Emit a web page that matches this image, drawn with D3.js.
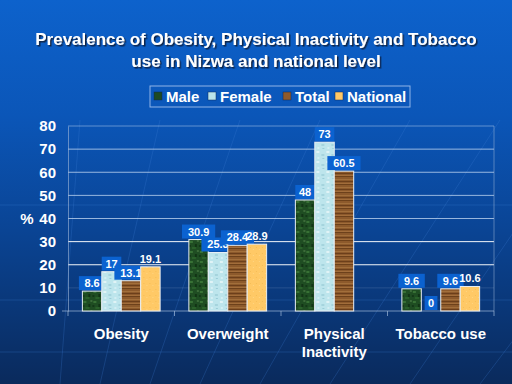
<!DOCTYPE html>
<html>
<head>
<meta charset="utf-8">
<script src="https://cdn.jsdelivr.net/npm/d3@7"></script>
<style>
  html, body { margin: 0; padding: 0; background: #0a3a80; }
  svg { display: block; }
  text { font-family: "Liberation Sans", Arial, sans-serif; font-weight: bold; }
</style>
</head>
<body>
<div id="chart"></div>
<script>
// chart values
const categories = [["Obesity"], ["Overweight"], ["Physical", "Inactivity"], ["Tobacco use"]];
const seriesNames = ["Male", "Female", "Total", "National"];
const male = [8.6, 30.9, 48, 9.6];
const female = [17, 25.3, 73, 0];
const total = [13.1, 28.4, 60.5, 9.6];
const national = [19.1, 28.9, null, 10.6];
const yTicks = [0, 10, 20, 30, 40, 50, 60, 70, 80];

const W = 512, H = 384;
const margin = { top: 126, right: 18, bottom: 73, left: 68 };

const series = [male, female, total, national];
const fills = ["url(#pMale)", "url(#pFemale)", "url(#pTotal)", "url(#pNational)"];
const swatch = ["#1d4a22", "#b9e3ea", "#8f5a2c", "#ffc966"];

const svg = d3.select("#chart").append("svg")
  .attr("width", W).attr("height", H);

const defs = svg.append("defs");

// slide background
const bg = defs.append("linearGradient").attr("id", "bg")
  .attr("x1", 0).attr("y1", 0).attr("x2", 0).attr("y2", 1);
bg.append("stop").attr("offset", "0%").attr("stop-color", "#0d62cc");
bg.append("stop").attr("offset", "30%").attr("stop-color", "#0b56b8");
bg.append("stop").attr("offset", "60%").attr("stop-color", "#0a4494");
bg.append("stop").attr("offset", "100%").attr("stop-color", "#0a2a5c");

// rough textures for the bars
function texture(id, base, spots, w, h) {
  const p = defs.append("pattern").attr("id", id)
    .attr("patternUnits", "userSpaceOnUse").attr("width", w).attr("height", h);
  p.append("rect").attr("width", w).attr("height", h).attr("fill", base);
  spots.forEach(s => {
    p.append("rect").attr("x", s[0]).attr("y", s[1]).attr("width", s[2]).attr("height", s[3])
      .attr("fill", s[4]).attr("opacity", s[5]);
  });
}
texture("pMale", "#1f4d22", [
  [1, 1, 3, 2, "#3f7a3a", 0.8], [6, 4, 2, 3, "#0f2e12", 0.8], [3, 7, 4, 2, "#2f6a2e", 0.7],
  [8, 0, 2, 2, "#5a8a50", 0.5], [0, 5, 2, 2, "#123516", 0.9]], 10, 10);
texture("pFemale", "#bde5ec", [
  [1, 1, 3, 2, "#e4f6f8", 0.9], [6, 4, 3, 2, "#9fd0da", 0.8], [2, 7, 2, 2, "#d6f0f4", 0.9],
  [7, 8, 2, 1, "#8cc4d0", 0.7]], 10, 10);
texture("pTotal", "#8d5a2c", [
  [0, 0, 12, 1, "#6a3e1a", 0.9], [0, 3, 12, 1, "#a8743e", 0.8], [0, 5, 12, 1, "#5e3414", 0.7],
  [0, 7, 12, 1, "#b07a44", 0.6]], 12, 8);
texture("pNational", "#ffc966", [
  [1, 1, 1, 1, "#f0b850", 0.7], [4, 3, 1, 1, "#ffd88a", 0.8]], 6, 6);

const shadow = defs.append("filter").attr("id", "shadow");
shadow.append("feDropShadow").attr("dx", 1.5).attr("dy", 1.5).attr("stdDeviation", 0.4)
  .attr("flood-color", "#0a1a3a").attr("flood-opacity", 0.9);

svg.append("rect").attr("width", W).attr("height", H).attr("fill", "url(#bg)");

// faint perspective lines in the slide background
const deco = svg.append("g").attr("stroke", "#3f7fd8").attr("stroke-opacity", 0.25).attr("fill", "none");
[[-40, 60], [40, 100], [120, 150], [200, 200], [290, 260], [380, 330], [470, 410], [560, 480]]
  .forEach(d => deco.append("line").attr("x1", d[0] + 120).attr("y1", 120).attr("x2", d[1]).attr("y2", H));
[205, 300, 352].forEach(y => deco.append("line").attr("x1", 0).attr("x2", W).attr("y1", y).attr("y2", y));

// title
svg.append("text").attr("x", W / 2).attr("y", 45).attr("text-anchor", "middle")
  .attr("fill", "#ffffff").attr("font-size", 17).attr("filter", "url(#shadow)")
  .selectAll("tspan")
  .data(["Prevalence of Obesity, Physical Inactivity and Tobacco", "use in Nizwa and national level"])
  .join("tspan").attr("x", W / 2).attr("dy", (d, i) => i ? 21.5 : 0).text(d => d);

// scales
const x0 = d3.scaleBand().domain(d3.range(categories.length))
  .range([margin.left, W - margin.right]).paddingInner(0.27).paddingOuter(0.135);
const x1 = d3.scaleBand().domain(d3.range(seriesNames.length)).range([0, x0.bandwidth()]);
const y = d3.scaleLinear().domain([0, 80]).range([H - margin.bottom, margin.top]);

const plotL = margin.left, plotR = W - margin.right;

// grid
svg.append("g").selectAll("line").data(yTicks.filter(t => t > 0)).join("line")
  .attr("x1", plotL).attr("x2", plotR)
  .attr("y1", d => y(d)).attr("y2", d => y(d))
  .attr("stroke", d => (d === 20 || d === 30) ? "#ffffff" : "#c8dcf4")
  .attr("stroke-opacity", d => d === 80 ? 0.45 : d === 10 ? 0.15 : (d === 20 || d === 30) ? 0.95 : 0.75)
  .attr("stroke-width", 1);
svg.append("line").attr("x1", plotR).attr("x2", plotR).attr("y1", y(80)).attr("y2", y(0))
  .attr("stroke", "#a0b8d8").attr("stroke-opacity", 0.5);

// y axis
const yAxis = svg.append("g").attr("transform", `translate(${plotL},0)`)
  .call(d3.axisLeft(y).tickValues(yTicks).tickSize(0).tickPadding(12));
yAxis.select(".domain").attr("stroke", "#a0b8d8").attr("stroke-opacity", 0.6);
yAxis.selectAll("text").attr("fill", "#ffffff").attr("font-size", 15)
  .attr("font-family", "Liberation Sans, Arial, sans-serif").attr("font-weight", "bold");

svg.append("text").attr("x", 27).attr("y", y(40)).attr("dy", "0.35em").attr("text-anchor", "middle")
  .attr("fill", "#ffffff").attr("font-size", 15).text("%");

// x axis (ticks at the group boundaries)
const xAxisG = svg.append("g").attr("transform", `translate(0,${y(0)})`);
xAxisG.append("line").attr("x1", plotL - 6).attr("x2", plotR).attr("stroke", "#a0b8d8").attr("stroke-opacity", 0.7);
xAxisG.selectAll(".tk").data(d3.range(categories.length + 1)).join("line")
  .attr("x1", i => plotL + i * x0.step()).attr("x2", i => plotL + i * x0.step())
  .attr("y1", 0).attr("y2", 5).attr("stroke", "#a0b8d8").attr("stroke-opacity", 0.7);

const catLabels = svg.append("g").selectAll("text").data(categories).join("text")
  .attr("text-anchor", "middle").attr("fill", "#ffffff").attr("font-size", 15)
  .attr("x", (d, i) => x0(i) + x0.bandwidth() / 2).attr("y", y(0) + 28);
catLabels.selectAll("tspan").data(d => d).join("tspan")
  .attr("x", function () { return this.parentNode.getAttribute("x"); })
  .attr("dy", (d, i) => i ? 18 : 0).text(d => d);

// bars
const groups = svg.append("g").selectAll("g").data(categories).join("g")
  .attr("transform", (d, i) => `translate(${x0(i)},0)`);

const cells = groups.selectAll("g").data((d, ci) => series.map((s, si) => ({ si, v: s[ci] })))
  .join("g");

cells.filter(d => d.v !== null && d.v > 0).append("rect")
  .attr("x", d => x1(d.si)).attr("width", x1.bandwidth())
  .attr("y", d => y(d.v)).attr("height", d => y(0) - y(d.v))
  .attr("fill", d => fills[d.si]).attr("stroke", "#e8eef4").attr("stroke-width", 1);

// value labels
const lab = cells.filter(d => d.v !== null);
lab.filter(d => d.si < 3).append("rect")
  .attr("x", d => x1(d.si) + x1.bandwidth() / 2 - (String(d.v).length * 3.4 + 3))
  .attr("width", d => String(d.v).length * 6.8 + 6)
  .attr("y", d => y(d.v) - 15).attr("height", 14)
  .attr("fill", "#0b62d0");
lab.append("text")
  .attr("x", d => x1(d.si) + x1.bandwidth() / 2).attr("y", d => y(d.v) - 4)
  .attr("text-anchor", "middle").attr("fill", "#ffffff").attr("font-size", 11)
  .text(d => d.v);

// legend
const legend = svg.append("g");
legend.append("rect").attr("x", 150).attr("y", 86).attr("width", 260).attr("height", 21)
  .attr("fill", "none").attr("stroke", "#8fb4e8").attr("stroke-width", 1);
const legX = [154, 208, 283, 335];
const items = legend.selectAll("g").data(seriesNames).join("g")
  .attr("transform", (d, i) => `translate(${legX[i]},92)`);
items.append("rect").attr("width", 8).attr("height", 8)
  .attr("fill", (d, i) => swatch[i]).attr("stroke", "#0a2a5c").attr("stroke-width", 0.5);
items.append("text").attr("x", 12).attr("y", 9.5).attr("fill", "#ffffff").attr("font-size", 15)
  .text(d => d);
</script>
</body>
</html>
